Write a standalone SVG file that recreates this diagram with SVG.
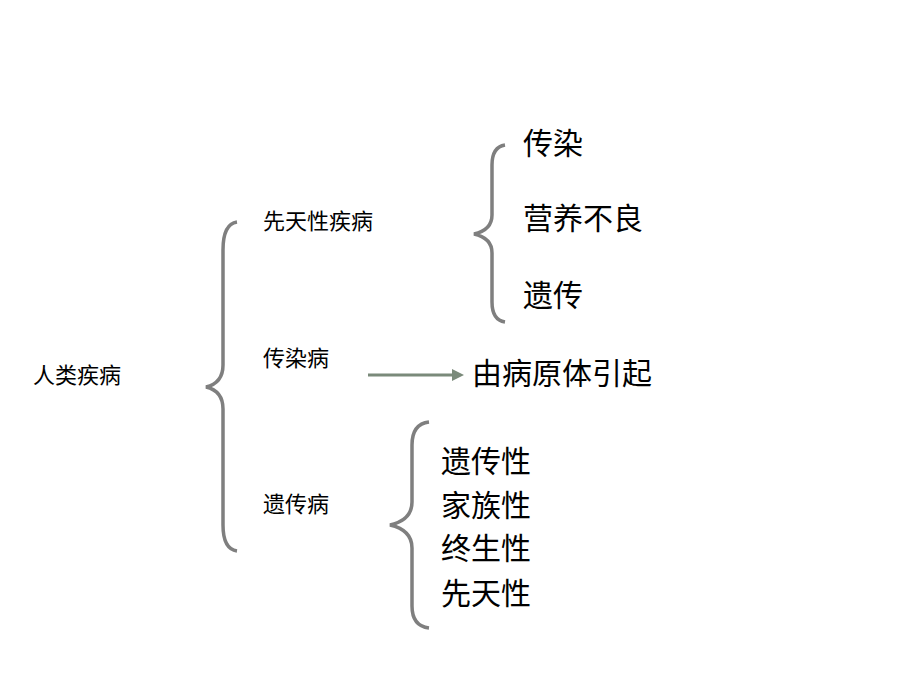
<svg xmlns="http://www.w3.org/2000/svg" width="920" height="690" viewBox="0 0 920 690">
<style>
.s{font-family:"Liberation Sans","Noto Sans CJK SC",sans-serif;font-size:22px;fill:#000}
.l{font-family:"Liberation Sans","Noto Sans CJK SC",sans-serif;font-size:30px;fill:#000}
.br{fill:none;stroke:#7f7f7f;stroke-width:3.5}
</style>
<defs>
<marker id="ah" markerWidth="4" markerHeight="4" refX="2" refY="2" orient="auto" markerUnits="strokeWidth"><path d="M0,0 L4,2 L0,4 z" fill="#7a8a7a"/></marker>
</defs>
<rect width="920" height="690" fill="#fff"/>
<g id="connectors">
<path class="br" d="M237,222 Q223,224 223,250 L223,365 Q223,383 206,387 Q223,391 223,409 L223,525 Q223,549 237,551"/>
<path class="br" d="M505,145 Q492,147 492,165 L492,215 Q492,230 474,234 Q492,238 492,253 L492,302 Q492,320 505,322"/>
<path class="br" d="M429,422 Q412,424 412,445 L412,502 Q412,520 390,525 Q412,530 412,548 L412,606 Q412,626 429,628"/>
<line x1="368" y1="375" x2="458" y2="375" stroke="#7a8a7a" stroke-width="3" marker-end="url(#ah)"/>
</g>
<g id="n_root"><text class="s" x="33" y="383">人类疾病</text></g>
<g id="n_xt"><text class="s" x="263" y="229">先天性疾病</text></g>
<g id="n_cr"><text class="s" x="263" y="366">传染病</text></g>
<g id="n_yc"><text class="s" x="263" y="512">遗传病</text></g>
<g id="n_a1"><text class="l" x="523" y="154">传染</text></g>
<g id="n_a2"><text class="l" x="523" y="229">营养不良</text></g>
<g id="n_a3"><text class="l" x="523" y="306">遗传</text></g>
<g id="n_b"><text class="l" x="472" y="384">由病原体引起</text></g>
<g id="n_c1"><text class="l" x="441" y="472">遗传性</text></g>
<g id="n_c2"><text class="l" x="441" y="516">家族性</text></g>
<g id="n_c3"><text class="l" x="441" y="559">终生性</text></g>
<g id="n_c4"><text class="l" x="441" y="604">先天性</text></g>
</svg>
